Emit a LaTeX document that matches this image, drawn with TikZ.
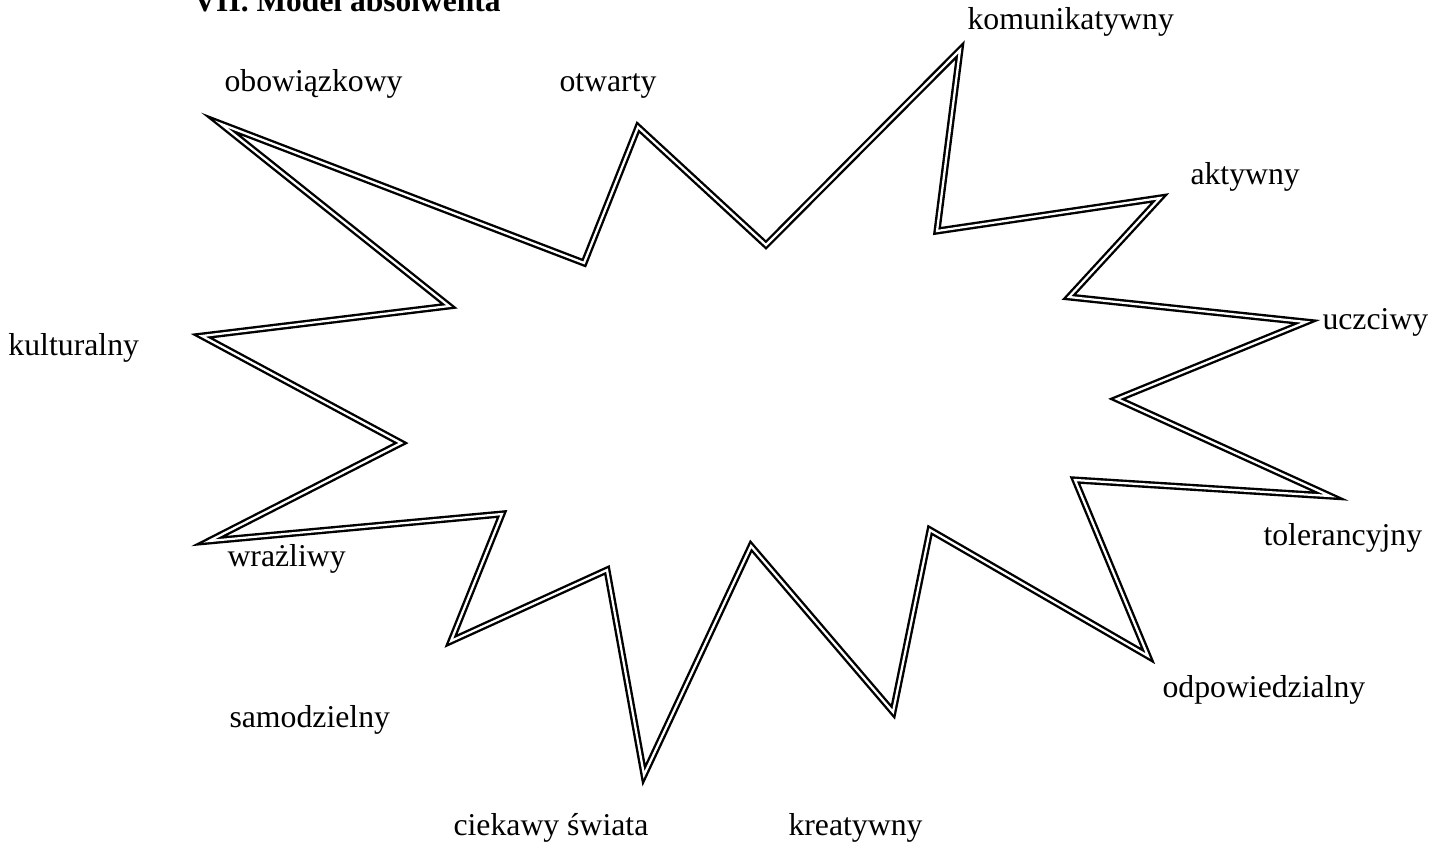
\documentclass[tikz,border=0pt]{standalone}
\usepackage{fontspec}
\setmainfont{Liberation Serif}
\usepackage{tikz}
\usetikzlibrary{positioning}

\begin{document}
\begin{tikzpicture}[x=0.4pt,y=-0.4pt,
    cecha/.style={anchor=base west,inner sep=0pt,font=\fontsize{12.7}{15}\selectfont},
    gwiazda/.style={draw=black,double=white,line width=0.95pt,double distance=0.9pt,line join=miter}]
  \useasboundingbox (0,0) rectangle (1432,842);
  % title
  \node[cecha,font=\fontsize{12.6}{15}\selectfont\bfseries] (tytul) at (193,11) {VII. Model absolwenta};
  % star
  \draw[gwiazda] (221,124) -- (584,263) -- (638,127) -- (766,245) -- (960,50)
    -- (937,231) -- (1160,198) -- (1069,297) -- (1306,322) -- (1117,399)
    -- (1330,496) -- (1075,480) -- (1148,656) -- (930,530) -- (893,712)
    -- (751,546) -- (644,775) -- (607,570) -- (451,641) -- (502,514)
    -- (209,541) -- (401,443) -- (202,336) -- (449,306) -- cycle;
  % labels
  \node[cecha] (obowiazkowy) at (224,91) {obowiązkowy};
  \node[cecha] (otwarty) at (559,91) {otwarty};
  \node[cecha] (komunikatywny) at (967,29) {komunikatywny};
  \node[cecha] (aktywny) at (1190,184) {aktywny};
  \node[cecha] (uczciwy) at (1322,329) {uczciwy};
  \node[cecha] (kulturalny) at (8,355) {kulturalny};
  \node[cecha] (tolerancyjny) at (1263,545) {tolerancyjny};
  \node[cecha] (wrazliwy) at (227,566) {wrażliwy};
  \node[cecha] (odpowiedzialny) at (1162,697) {odpowiedzialny};
  \node[cecha] (samodzielny) at (229,727) {samodzielny};
  \node[cecha] (ciekawy) at (453,835) {ciekawy świata};
  \node[cecha] (kreatywny) at (788,835) {kreatywny};
\end{tikzpicture}
\end{document}
